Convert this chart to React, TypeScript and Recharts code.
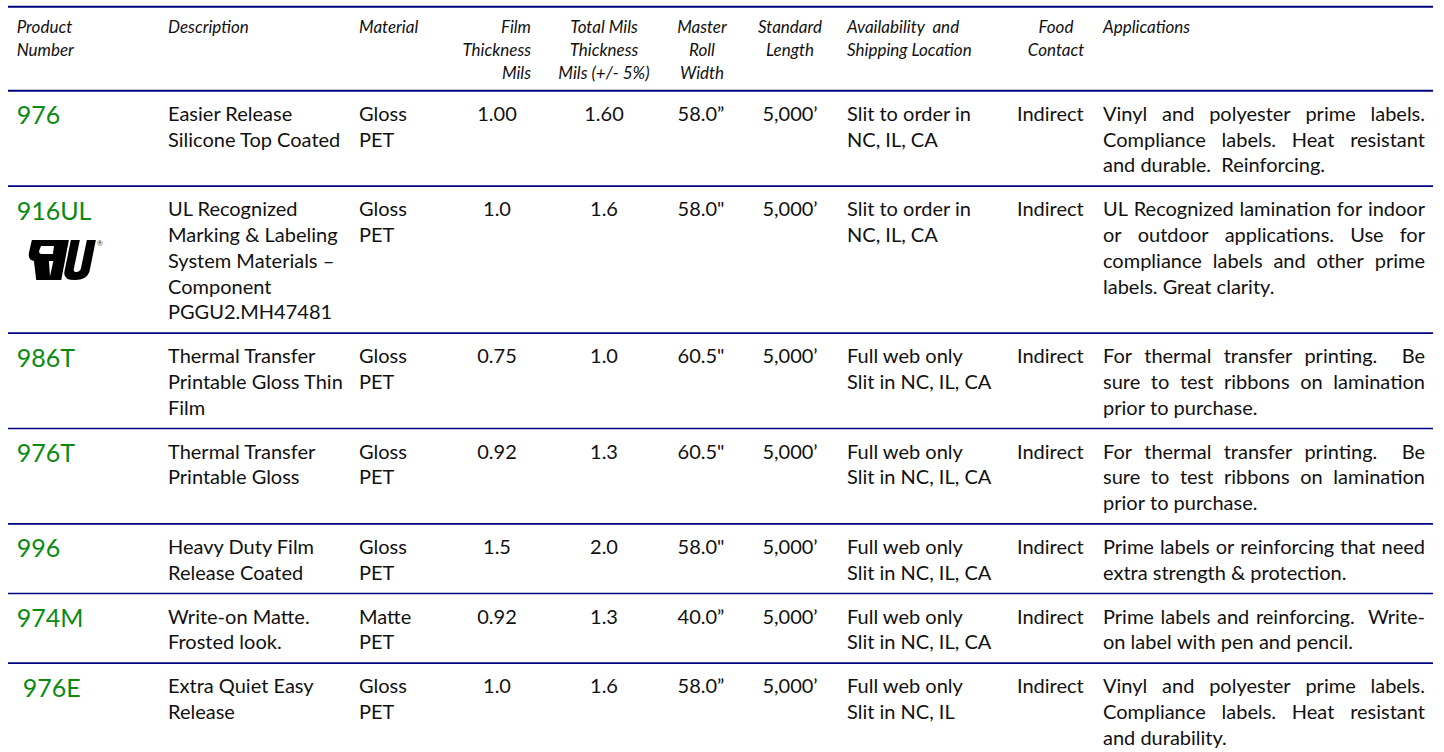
import { Surface, Layer, Text } from "recharts";

// ---- table content ----
const headers = [
  ["Product", "Number"],
  ["Description"],
  ["Material"],
  ["Film", "Thickness", "Mils"],
  ["Total Mils", "Thickness", "Mils (+/- 5%)"],
  ["Master", "Roll", "Width"],
  ["Standard", "Length"],
  ["Availability\u00a0 and", "Shipping Location"],
  ["Food", "Contact"],
  ["Applications"],
];

const productNumbers = ["976", "916UL", "986T", "976T", "996", "974M", "976E"];

const descriptions = [
  ["Easier Release", "Silicone Top Coated"],
  ["UL Recognized", "Marking & Labeling", "System Materials \u2013", "Component", "PGGU2.MH47481"],
  ["Thermal Transfer", "Printable Gloss Thin", "Film"],
  ["Thermal Transfer", "Printable Gloss"],
  ["Heavy Duty Film", "Release Coated"],
  ["Write-on Matte.", "Frosted look."],
  ["Extra Quiet Easy", "Release"],
];

const materials = [
  ["Gloss", "PET"],
  ["Gloss", "PET"],
  ["Gloss", "PET"],
  ["Gloss", "PET"],
  ["Gloss", "PET"],
  ["Matte", "PET"],
  ["Gloss", "PET"],
];

const filmMils = ["1.00", "1.0", "0.75", "0.92", "1.5", "0.92", "1.0"];
const totalMils = ["1.60", "1.6", "1.0", "1.3", "2.0", "1.3", "1.6"];
const rollWidths = ["58.0\u201d", "58.0\"", "60.5\"", "60.5\"", "58.0\"", "40.0\u201d", "58.0\u201d"];
const lengths = ["5,000\u2019", "5,000\u2019", "5,000\u2019", "5,000\u2019", "5,000\u2019", "5,000\u2019", "5,000\u2019"];

const availability = [
  ["Slit to order in", "NC, IL, CA"],
  ["Slit to order in", "NC, IL, CA"],
  ["Full web only", "Slit in NC, IL, CA"],
  ["Full web only", "Slit in NC, IL, CA"],
  ["Full web only", "Slit in NC, IL, CA"],
  ["Full web only", "Slit in NC, IL, CA"],
  ["Full web only", "Slit in NC, IL"],
];

const foodContact = ["Indirect", "Indirect", "Indirect", "Indirect", "Indirect", "Indirect", "Indirect"];

const applications = [
  ["Vinyl and polyester prime labels.", "Compliance labels. Heat resistant", "and durable.  Reinforcing."],
  ["UL Recognized lamination for indoor", "or outdoor applications. Use for", "compliance labels and other prime", "labels. Great clarity."],
  ["For thermal transfer printing.  Be", "sure to test ribbons on lamination", "prior to purchase."],
  ["For thermal transfer printing.  Be", "sure to test ribbons on lamination", "prior to purchase."],
  ["Prime labels or reinforcing that need", "extra strength & protection."],
  ["Prime labels and reinforcing.  Write-", "on label with pen and pencil."],
  ["Vinyl and polyester prime labels.", "Compliance labels. Heat resistant", "and durability."],
];

// ---- layout ----
const W = 1444;
const H = 752;
const FONT = "Lato, 'Open Sans', sans-serif";
const BODY = 20;
const HEAD = 17;
const NUM = 25;
const GREEN = "#0b8a12";
const NAVY = "#000080";
const LINE_X1 = 8;
const LINE_X2 = 1433;
const TOP_Y = 6.7;
const HEAD_Y = 90.7;
const LH = 25.8;
const PAD = 18;
const FIRST = 30;
const APP_X = 1103;
const APP_W = 322;

const headCols: { x: number; anchor: "start" | "middle" | "end" }[] = [
  { x: 16.7, anchor: "start" },
  { x: 168, anchor: "start" },
  { x: 359, anchor: "start" },
  { x: 531, anchor: "end" },
  { x: 604, anchor: "middle" },
  { x: 702, anchor: "middle" },
  { x: 790, anchor: "middle" },
  { x: 847, anchor: "start" },
  { x: 1056, anchor: "middle" },
  { x: APP_X, anchor: "start" },
];

const one = (a: string[]) => a.map((v) => [v]);

const bodyCols: { lines: string[][]; x: number; anchor: "start" | "middle" | "end" }[] = [
  { lines: descriptions, x: 168, anchor: "start" },
  { lines: materials, x: 359, anchor: "start" },
  { lines: one(filmMils), x: 497, anchor: "middle" },
  { lines: one(totalMils), x: 604, anchor: "middle" },
  { lines: one(rollWidths), x: 701, anchor: "middle" },
  { lines: one(lengths), x: 790, anchor: "middle" },
  { lines: availability, x: 847, anchor: "start" },
  { lines: one(foodContact), x: 1017, anchor: "start" },
];

let ctx: CanvasRenderingContext2D | null = null;
function measure(s: string, size: number) {
  if (!ctx) ctx = document.createElement("canvas").getContext("2d");
  if (!ctx) return s.length * size * 0.5;
  ctx.font = `${size}px Lato`;
  return ctx.measureText(s).width;
}

// word positions for a justified line (last line keeps natural spacing)
function layoutLine(line: string, justify: boolean) {
  const tokens = line.split(" ");
  const words: { text: string; spacesBefore: number }[] = [];
  let pending = 0;
  tokens.forEach((t, i) => {
    if (i > 0) pending++;
    if (t !== "") {
      words.push({ text: t, spacesBefore: words.length ? pending : 0 });
      pending = 0;
    }
  });
  const wordsW = words.reduce((s, w) => s + measure(w.text, BODY), 0);
  const nSpaces = words.reduce((s, w) => s + w.spacesBefore, 0);
  const space = justify && nSpaces > 0 ? (APP_W - wordsW) / nSpaces : measure(" ", BODY);
  let x = 0;
  return words.map((w) => {
    x += w.spacesBefore * space;
    const pos = { text: w.text, dx: x };
    x += measure(w.text, BODY);
    return pos;
  });
}

function ULMark({ x, y }: { x: number; y: number }) {
  return (
    <Layer transform={`translate(${x},${y})`}>
      <Layer transform="skewX(-8) translate(5,0)">
        <path
          fillRule="evenodd"
          fill="#000"
          d="M2,1 H37 L36,22 H22 L26,41 H12 L7,22 Q0,21 1,12 Z M12,7 H25 L25,15 H15 Q10,15 11,11 Z"
        />
        <path fill="#000" d="M28,1 H39 L37,41 H25 Z" />
        <path
          fill="#000"
          d="M41,1 H50 L48,30 Q48,33 51,33 Q54,33 55,30 L57,1 H66 L64,33 Q62,41 51,41 Q39,41 39,33 Z"
        />
      </Layer>
      <Text x={72} y={7} fontSize={7} fontFamily={FONT} fill="#333">
        {"\u00ae"}
      </Text>
    </Layer>
  );
}

export default function App() {
  const rowCounts = productNumbers.map((_, i) =>
    Math.max(...bodyCols.map((c) => c.lines[i].length), applications[i].length)
  );
  const rowTops: number[] = [];
  let y = HEAD_Y;
  rowCounts.forEach((n) => {
    rowTops.push(y);
    y += PAD + n * LH;
  });

  return (
    <div style={{ position: "absolute", left: 0, top: 0, width: W, height: H, background: "#fff" }}>
      <Surface width={W} height={H}>
        <line x1={LINE_X1} x2={LINE_X2} y1={TOP_Y} y2={TOP_Y} stroke={NAVY} strokeWidth={2} />
        <line x1={LINE_X1} x2={LINE_X2} y1={HEAD_Y} y2={HEAD_Y} stroke={NAVY} strokeWidth={2} />
        {rowTops.slice(1).map((ry, i) => (
          <line key={i} x1={LINE_X1} x2={LINE_X2} y1={ry} y2={ry} stroke={NAVY} strokeWidth={1.6} />
        ))}

        <Layer className="header">
          {headers.map((lines, c) =>
            lines.map((t, k) => (
              <Text
                key={`${c}-${k}`}
                x={headCols[c].x}
                y={33 + k * 23}
                textAnchor={headCols[c].anchor}
                fontFamily={FONT}
                fontStyle="italic"
                fontSize={HEAD}
                fill="#111"
              >
                {t}
              </Text>
            ))
          )}
        </Layer>

        {productNumbers.map((pn, i) => {
          const base = rowTops[i] + FIRST;
          return (
            <Layer key={pn} className="row">
              <Text
                x={i === 6 ? 22.7 : 16.7}
                y={base + 3.5}
                fontFamily={FONT}
                fontSize={NUM}
                fill={GREEN}
              >
                {pn}
              </Text>
              {pn === "916UL" && <ULMark x={25} y={base + 23} />}
              {bodyCols.map((c, ci) =>
                c.lines[i].map((t, k) => (
                  <Text
                    key={`${ci}-${k}`}
                    x={c.x}
                    y={base + k * LH}
                    textAnchor={c.anchor}
                    fontFamily={FONT}
                    fontSize={BODY}
                    fill="#111"
                  >
                    {t}
                  </Text>
                ))
              )}
              {applications[i].map((line, k) =>
                layoutLine(line, k < applications[i].length - 1).map((w, wi) => (
                  <Text
                    key={`a-${k}-${wi}`}
                    x={APP_X + w.dx}
                    y={base + k * LH}
                    fontFamily={FONT}
                    fontSize={BODY}
                    fill="#111"
                  >
                    {w.text}
                  </Text>
                ))
              )}
            </Layer>
          );
        })}
      </Surface>
    </div>
  );
}
